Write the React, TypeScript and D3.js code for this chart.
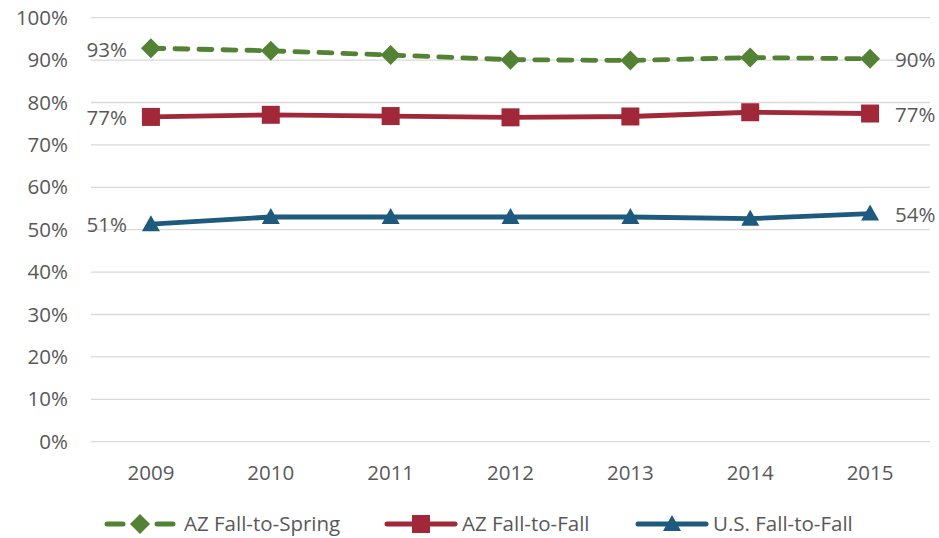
import React, { useEffect, useRef } from 'react';
import * as d3 from 'd3';

const years = ['2009', '2010', '2011', '2012', '2013', '2014', '2015'];
const azSpring = [0.928, 0.922, 0.912, 0.901, 0.899, 0.906, 0.903];
const azFall = [0.766, 0.771, 0.768, 0.765, 0.767, 0.777, 0.774];
const usFall = [0.513, 0.53, 0.53, 0.53, 0.53, 0.526, 0.538];
const yTicks = [0, 0.1, 0.2, 0.3, 0.4, 0.5, 0.6, 0.7, 0.8, 0.9, 1];

const seriesNames = ['AZ Fall-to-Spring', 'AZ Fall-to-Fall', 'U.S. Fall-to-Fall'];
const colors = ['#548235', '#A12838', '#1D5A7E'];

const FONT = "'Open Sans', sans-serif";
const TEXT = '#595959';
const FS = '20.5px';

const App: React.FC = () => {
  const svgRef = useRef<SVGSVGElement | null>(null);

  useEffect(() => {
    const width = 939;
    const height = 538;
    const svg = d3.select(svgRef.current).attr('width', width).attr('height', height);
    svg.selectAll('*').remove();

    const x = d3.scaleBand<string>().domain(years).range([91, 930]);
    const cx = (d: string) => (x(d) as number) + x.bandwidth() / 2;
    const y = d3.scaleLinear().domain([0, 1]).range([441.7, 17.7]);

    // gridlines
    svg.append('g')
      .selectAll('line')
      .data(yTicks)
      .enter().append('line')
      .attr('x1', 91).attr('x2', 930)
      .attr('y1', d => y(d)).attr('y2', d => y(d))
      .attr('stroke', '#d9d9d9').attr('stroke-width', 1.3);

    // y labels
    svg.append('g')
      .selectAll('text')
      .data(yTicks)
      .enter().append('text')
      .attr('x', 68).attr('y', d => y(d))
      .attr('dy', '0.35em')
      .attr('text-anchor', 'end')
      .style('font-family', FONT).style('font-size', FS).style('fill', TEXT)
      .text(d => d3.format('.0%')(d));

    // x labels
    svg.append('g')
      .selectAll('text')
      .data(years)
      .enter().append('text')
      .attr('x', d => cx(d)).attr('y', 473)
      .attr('dy', '0.35em')
      .attr('text-anchor', 'middle')
      .style('font-family', FONT).style('font-size', FS).style('fill', TEXT)
      .text(d => d);

    const all = [azSpring, azFall, usFall];

    const line = d3.line<number>()
      .x((_, i) => cx(years[i]))
      .y(d => y(d));

    const drawMarker = (g: any, k: number, px: number, py: number) => {
      if (k === 0) {
        const s = 10;
        g.append('path')
          .attr('d', `M${px},${py - s}L${px + s},${py}L${px},${py + s}L${px - s},${py}Z`)
          .attr('fill', colors[0]);
      } else if (k === 1) {
        g.append('rect')
          .attr('x', px - 9).attr('y', py - 9).attr('width', 18).attr('height', 18)
          .attr('fill', colors[1]);
      } else {
        g.append('path')
          .attr('d', `M${px},${py - 9}L${px + 9},${py + 7}L${px - 9},${py + 7}Z`)
          .attr('fill', colors[2]);
      }
    };

    all.forEach((vals, k) => {
      const g = svg.append('g');
      g.append('path')
        .datum(vals)
        .attr('d', line)
        .attr('fill', 'none')
        .attr('stroke', colors[k])
        .attr('stroke-width', 4.8)
        .attr('stroke-linecap', k === 0 ? 'round' : 'butt')
        .attr('stroke-dasharray', k === 0 ? '13 11' : null);
      vals.forEach((v, i) => drawMarker(g, k, cx(years[i]), y(v)));

      const fmt = d3.format('.0%');
      g.append('text')
        .attr('x', 127).attr('y', y(vals[0]) + (k === 0 ? 2 : 1))
        .attr('dy', '0.35em').attr('text-anchor', 'end')
        .style('font-family', FONT).style('font-size', FS).style('fill', TEXT)
        .text(fmt(vals[0]));
      g.append('text')
        .attr('x', 895).attr('y', y(vals[vals.length - 1]) + 1)
        .attr('dy', '0.35em').attr('text-anchor', 'start')
        .style('font-family', FONT).style('font-size', FS).style('fill', TEXT)
        .text(fmt(vals[vals.length - 1]));
    });

    // legend
    const legX = [104, 385, 636];
    const ly = 524;
    seriesNames.forEach((name, k) => {
      const g = svg.append('g');
      const x0 = legX[k];
      if (k === 0) {
        g.append('line').attr('x1', x0 + 3).attr('x2', x0 + 19).attr('y1', ly).attr('y2', ly)
          .attr('stroke', colors[0]).attr('stroke-width', 5).attr('stroke-linecap', 'round');
        g.append('line').attr('x1', x0 + 53).attr('x2', x0 + 69).attr('y1', ly).attr('y2', ly)
          .attr('stroke', colors[0]).attr('stroke-width', 5).attr('stroke-linecap', 'round');
      } else {
        g.append('line').attr('x1', x0 + 2).attr('x2', x0 + 70).attr('y1', ly).attr('y2', ly)
          .attr('stroke', colors[k]).attr('stroke-width', 5).attr('stroke-linecap', 'round');
      }
      drawMarker(g, k, x0 + 36, ly);
      g.append('text')
        .attr('x', k === 0 ? x0 + 80 : x0 + 77).attr('y', ly)
        .attr('dy', '0.35em')
        .style('font-family', FONT).style('font-size', FS).style('fill', TEXT)
        .text(name);
    });
  }, []);

  return <svg ref={svgRef} style={{ position: 'absolute', left: 0, top: 0, background: '#fff' }}></svg>;
};

export default App;
